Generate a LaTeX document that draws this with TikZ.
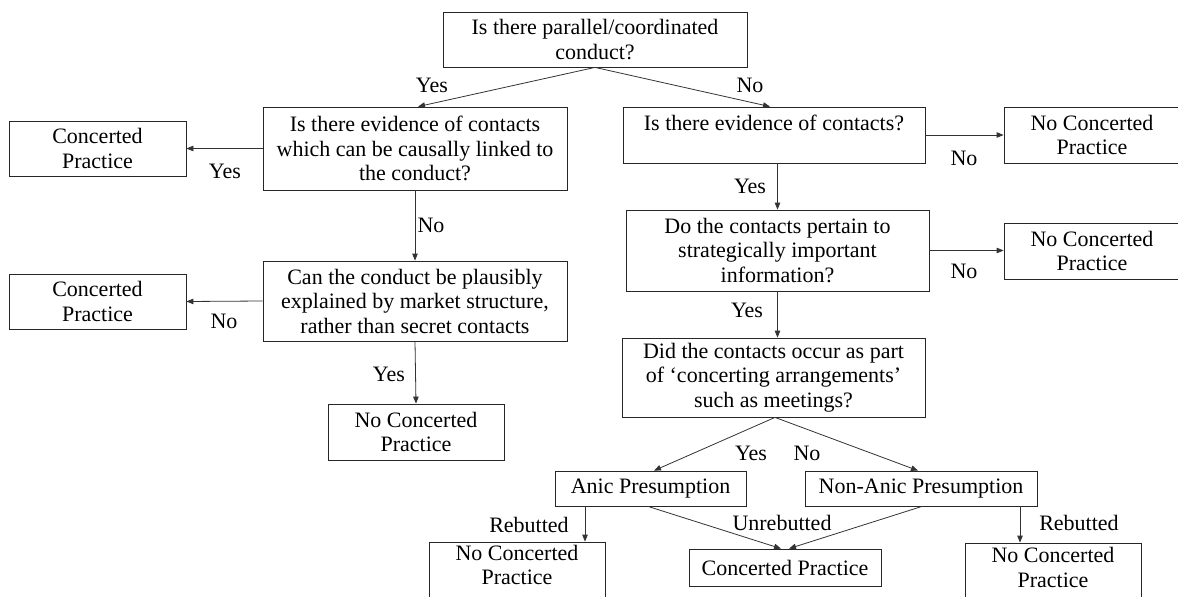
\documentclass[tikz,border=0pt]{standalone}
\usepackage{fontspec}
\setmainfont{Liberation Serif}
\usetikzlibrary{arrows.meta,calc}
\newcommand\flowfont{\fontsize{22}{24.5}\selectfont}
\begin{document}
\begin{tikzpicture}[x=1pt,y=-1pt,
  box/.style={draw=black!85, line width=0.8pt, inner sep=0pt, align=center, font=\flowfont},
  wide/.style={box, minimum width=304},
  small/.style={box, minimum width=177, minimum height=55},
  lbl/.style={font=\flowfont, inner sep=0pt},
  arr/.style={draw=black!80, line width=0.8pt, -{Triangle[length=7pt,width=5.5pt]}}]
\useasboundingbox (0,0) rectangle (1178,597);
\clip (0,0) rectangle (1178,597);

% question boxes
\node[wide, minimum height=55] (top) at (595,39.5) {Is there parallel/coordinated\\conduct?};
\node[wide, minimum height=83] (q1l) at (415,148.5) {Is there evidence of contacts\\which can be causally linked to\\the conduct?};
\node[wide, minimum height=80] (q2l) at (415,301) {Can the conduct be plausibly\\explained by market structure,\\rather than secret contacts};
\node[box, minimum width=302, minimum height=56] (q1r) at (774,135) {Is there evidence of contacts?\\\mbox{}};
\node[box, minimum width=303, minimum height=81] (q2r) at (777.5,250.5) {Do the contacts pertain to\\strategically important\\information?};
\node[box, minimum width=303, minimum height=79] (q3) at (773.5,377.5) {Did the contacts occur as part\\of `concerting arrangements'\\such as meetings?};
\node[box, minimum width=191, minimum height=35] (anic) at (650.5,488.5) {Anic Presumption};
\node[box, minimum width=232, minimum height=35] (nonanic) at (921,488.5) {Non-Anic Presumption};

% outcome boxes
\node[small] (cp1) at (97.5,148.5) {Concerted\\Practice};
\node[small] (cp2) at (97.5,301.5) {Concerted\\Practice};
\node[box, minimum width=176, minimum height=56] (ncpl) at (416,432) {No Concerted\\Practice};
\node[box, minimum width=176, minimum height=56] (ncp1) at (1092,135) {No Concerted\\Practice};
\node[box, minimum width=176, minimum height=56] (ncp2) at (1092,251) {No Concerted\\Practice};
\node[box, minimum width=176, minimum height=70.5] (ncpbl) at (517,577.25) {No Concerted\\Practice\\\mbox{}};
\node[box, minimum width=192, minimum height=37] (cp) at (785,567.5) {Concerted Practice};
\node[box, minimum width=176, minimum height=73.5] (ncpbr) at (1053,579.75) {No Concerted\\Practice\\\mbox{}};

% connectors
\draw[arr] (top.south) -- ([xshift=3]q1l.north);
\draw[arr] (top.south) -- ([xshift=-4]q1r.north);
\draw[arr] (q1l.west) -- (cp1.east);
\draw[arr] (q1l.south) -- (q2l.north);
\draw[arr] (q2l.west) -- (cp2.east);
\draw[arr] (q2l.south) -- (ncpl.north);
\draw[arr] (q1r.east) -- (ncp1.west |- q1r.east);
\draw[arr] (q2r.north |- q1r.south) -- (q2r.north);
\draw[arr] (q2r.east) -- (ncp2.west |- q2r.east);
\draw[arr] (q2r.south) -- (q2r.south |- q3.north);
\draw[arr] ([xshift=1.5]q3.south) -- ([xshift=3.5]anic.north);
\draw[arr] ([xshift=1.5]q3.south) -- ([xshift=-3]nonanic.north);
\draw[arr] ([xshift=-65.5]anic.south) -- ([xshift=-65.5]anic.south |- ncpbl.north);
\draw[arr] ([xshift=-2.5]anic.south) -- ([xshift=-4]cp.north);
\draw[arr] ([xshift=1]nonanic.south) -- ([xshift=4]cp.north);
\draw[arr] ([xshift=99]nonanic.south) -- ([xshift=99]nonanic.south |- ncpbr.north);

% branch labels
\node[lbl] (l1) at (432,85) {Yes};
\node[lbl] (l2) at (750,85) {No};
\node[lbl] (l3) at (225,171) {Yes};
\node[lbl] (l4) at (431,225) {No};
\node[lbl] (l5) at (224,321) {No};
\node[lbl] (l6) at (389,374) {Yes};
\node[lbl] (l7) at (964,158) {No};
\node[lbl] (l8) at (750,186) {Yes};
\node[lbl] (l9) at (964,271) {No};
\node[lbl] (l10) at (747,310) {Yes};
\node[lbl] (l11) at (751,453) {Yes};
\node[lbl] (l12) at (807,453) {No};
\node[lbl] (l13) at (529,525) {Rebutted};
\node[lbl] (l14) at (782,523) {Unrebutted};
\node[lbl] (l15) at (1079,523) {Rebutted};
\end{tikzpicture}
\end{document}
